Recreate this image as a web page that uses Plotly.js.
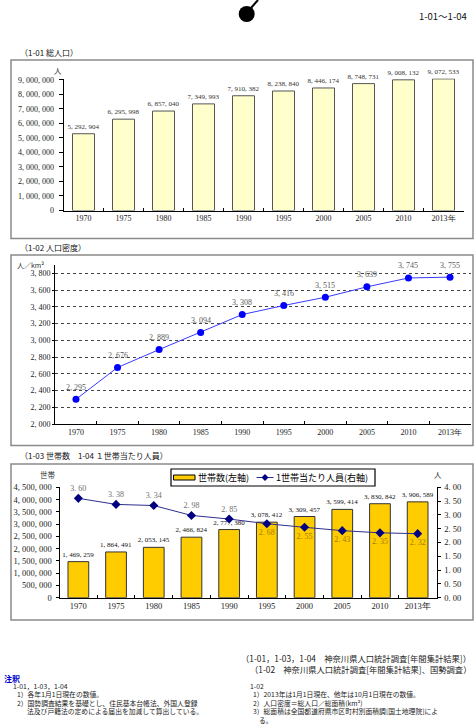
<!DOCTYPE html>
<html>
<head>
<meta charset="utf-8">
<script src="https://cdn.plot.ly/plotly-3.0.1.min.js"></script>
<style>
  html, body { margin: 0; padding: 0; background: #fff; }
  #chart { width: 475px; height: 727px; }
</style>
</head>
<body>
<div id="chart"></div>
<script>
// ---- data ----
const years = ['1970', '1975', '1980', '1985', '1990', '1995', '2000', '2005', '2010', '2013年'];
const totalPopulation = [5292904, 6295998, 6857040, 7349993, 7910382, 8238840, 8446174, 8748731, 9008132, 9072533];
const populationDensity = [2295, 2676, 2889, 3094, 3308, 3416, 3515, 3639, 3745, 3755];
const households = [1469259, 1864491, 2053145, 2466824, 2777380, 3078412, 3309457, 3599414, 3830842, 3906589];
const personsPerHousehold = [3.60, 3.38, 3.34, 2.98, 2.85, 2.68, 2.55, 2.43, 2.35, 2.32];

const populationTicks = [0, 1000000, 2000000, 3000000, 4000000, 5000000, 6000000, 7000000, 8000000, 9000000];
const densityTicks = [2000, 2200, 2400, 2600, 2800, 3000, 3200, 3400, 3600, 3800];
const householdTicks = [0, 500000, 1000000, 1500000, 2000000, 2500000, 3000000, 3500000, 4000000, 4500000];
const perHouseholdTicks = [0, 0.5, 1.0, 1.5, 2.0, 2.5, 3.0, 3.5, 4.0];

const householdSeriesName = '世帯数(左軸)';
const perHouseholdSeriesName = '1世帯当たり人員(右軸)';

// ---- helpers ----
const W = 475, H = 727;
const X = px => px / W;
const Y = py => 1 - py / H;
const FONT_JP = '"Noto Sans CJK JP", "Noto Sans", sans-serif';
const FONT_NUM = '"Liberation Serif", "DejaVu Serif", serif';

// thousands separated with a wide comma, e.g. 5, 292, 904
const fmtInt = v => String(Math.round(v)).replace(/\B(?=(\d{3})+(?!\d))/g, ', ');
const fmtDec = v => v.toFixed(2).replace('.', '. ');

// labels of the first five points sit above the line, the rest below it
const perLabelPos = personsPerHousehold.map((v, i) => i < 5 ? 'top center' : 'bottom center');
const perLabelColor = personsPerHousehold.map((v, i) => i < 5 ? '#707070' : '#A57C00');

const traces = [
  {
    type: 'bar', x: years, y: totalPopulation, xaxis: 'x', yaxis: 'y',
    width: 0.55,
    marker: { color: '#FFFFCC', line: { color: '#555', width: 1 } },
    text: totalPopulation.map(fmtInt), textposition: 'outside', constraintext: 'none',
    textfont: { family: FONT_NUM, size: 7, color: '#333' }, cliponaxis: false,
    showlegend: false, hoverinfo: 'skip'
  },
  {
    type: 'scatter', mode: 'lines+markers', x: years, y: populationDensity, xaxis: 'x2', yaxis: 'y2',
    line: { color: '#3A3AFF', width: 1 },
    marker: { color: '#0000FF', size: 7 },
    cliponaxis: false, showlegend: false, hoverinfo: 'skip'
  },
  {
    type: 'bar', name: householdSeriesName, x: years, y: households, xaxis: 'x3', yaxis: 'y3',
    width: 0.55,
    marker: { color: '#FFCC00', line: { color: '#333', width: 1 } },
    text: households.map(fmtInt), textposition: 'outside', constraintext: 'none',
    textfont: { family: FONT_NUM, size: 7, color: '#111' }, cliponaxis: false,
    showlegend: false, hoverinfo: 'skip'
  },
  {
    type: 'scatter', mode: 'lines+markers+text', name: perHouseholdSeriesName,
    x: years, y: personsPerHousehold, xaxis: 'x3', yaxis: 'y4',
    line: { color: '#2E2E8F', width: 1 },
    marker: { color: '#000080', size: 7, symbol: 'diamond' },
    text: personsPerHousehold.map(fmtDec), textposition: perLabelPos,
    textfont: { family: FONT_NUM, size: 8, color: perLabelColor }, cliponaxis: false,
    showlegend: false, hoverinfo: 'skip'
  }
];

const xCommon = {
  type: 'category', range: [-0.5, 9.5], showline: true, linecolor: '#000', linewidth: 1,
  ticks: 'inside', ticklen: 3, tickcolor: '#000', tickson: 'boundaries',
  showgrid: false, zeroline: false, fixedrange: true,
  tickfont: { family: FONT_NUM, size: 8, color: '#222' }
};
const yCommon = {
  showline: true, linecolor: '#000', linewidth: 1, ticks: 'outside', ticklen: 3,
  tickcolor: '#000', zeroline: false, fixedrange: true, showgrid: false,
  tickfont: { family: FONT_NUM, size: 8, color: '#222' }
};

const ann = (text, x, y, opts = {}) => Object.assign({
  text, x: X(x), y: Y(y), xref: 'paper', yref: 'paper', showarrow: false,
  xanchor: 'left', yanchor: 'middle', borderpad: 0,
  font: { family: FONT_JP, size: 8, color: '#222' }
}, opts);

const box = (x0, y0, x1, y1, color = '#8A8A8A', width = 1.5, fill = 'rgba(0,0,0,0)', layer = 'below') => ({
  type: 'rect', xref: 'paper', yref: 'paper', x0: X(x0), x1: X(x1), y0: Y(y1), y1: Y(y0),
  line: { color, width }, fillcolor: fill, layer
});

// value labels above the density points (x given as category index)
const densityLabels = populationDensity.map((v, i) => ({
  text: fmtInt(v), x: i, y: v, xref: 'x2', yref: 'y2', showarrow: false,
  yshift: 12, xanchor: 'center', yanchor: 'middle',
  font: { family: FONT_NUM, size: 8, color: '#5A5A5A' }
}));

// legend of the household chart
const LEG_Y = 477.5;
const legendShapes = [
  box(171, 469, 375, 486, '#000', 1.2, '#fff', 'above'),
  box(173.5, LEG_Y - 2.5, 195, LEG_Y + 2.5, '#000', 1, '#FFCC00', 'above'),
  { type: 'line', xref: 'paper', yref: 'paper', x0: X(256.5), x1: X(273.5), y0: Y(LEG_Y), y1: Y(LEG_Y),
    line: { color: '#2E2E8F', width: 1 }, layer: 'above' },
  { type: 'path', xref: 'paper', yref: 'paper', layer: 'above',
    path: `M ${X(265)},${Y(LEG_Y - 3.5)} L ${X(268.5)},${Y(LEG_Y)} L ${X(265)},${Y(LEG_Y + 3.5)} L ${X(261.5)},${Y(LEG_Y)} Z`,
    fillcolor: '#000080', line: { color: '#000080', width: 0 } }
];

const NOTE = { family: FONT_JP, size: 6.8, color: '#222' };

const layout = {
  width: W, height: H, autosize: false,
  margin: { l: 0, r: 0, t: 0, b: 0 },
  paper_bgcolor: '#fff', plot_bgcolor: 'rgba(0,0,0,0)',
  font: { family: FONT_NUM, size: 8, color: '#222' },
  showlegend: false,

  // 1-01 total population
  xaxis: Object.assign({}, xCommon, { domain: [X(63.5), X(463.5)], anchor: 'y' }),
  yaxis: Object.assign({}, yCommon, {
    domain: [Y(210.5), Y(78.5)], anchor: 'x', range: [0, 9100000],
    tickvals: populationTicks, ticktext: populationTicks.map(fmtInt), ticklen: 4, ticklabelstandoff: 3
  }),

  // 1-02 population density
  xaxis2: Object.assign({}, xCommon, { domain: [X(55.2), X(470.8)], anchor: 'y2' }),
  yaxis2: Object.assign({}, yCommon, {
    domain: [Y(424), Y(265)], anchor: 'x2', range: [2000, 3900],
    tickvals: densityTicks, ticktext: densityTicks.map(fmtInt), ticklen: 2,
    showgrid: true, gridcolor: '#444', gridwidth: 1, griddash: 'dot'
  }),

  // 1-03 households, 1-04 persons per household
  xaxis3: Object.assign({}, xCommon, {
    domain: [X(59.5), X(436.5)], anchor: 'y3',
    tickfont: { family: FONT_NUM, size: 8.5, color: '#222' }
  }),
  yaxis3: Object.assign({}, yCommon, {
    domain: [Y(597.7), Y(487.3)], anchor: 'x3', range: [0, 4500000],
    tickvals: householdTicks, ticktext: householdTicks.map(fmtInt), ticklabelstandoff: 2,
    tickfont: { family: FONT_NUM, size: 8.5, color: '#222' }
  }),
  yaxis4: Object.assign({}, yCommon, {
    overlaying: 'y3', side: 'right', anchor: 'x3', range: [0, 4],
    tickvals: perHouseholdTicks, ticktext: perHouseholdTicks.map(fmtDec), ticklabelstandoff: 2,
    tickfont: { family: FONT_NUM, size: 8.5, color: '#222' }
  }),

  shapes: [
    box(11, 60, 473, 238.5),
    box(11, 255, 473, 445.5),
    box(11, 464, 473, 620),
    // page marker at the top
    { type: 'circle', xref: 'paper', yref: 'paper', x0: X(238.7), x1: X(254.7), y0: Y(22), y1: Y(6),
      fillcolor: '#000', line: { color: '#000', width: 0 } },
    { type: 'line', xref: 'paper', yref: 'paper', x0: X(251), y0: Y(8), x1: X(258), y1: Y(0),
      line: { color: '#000', width: 2 } }
  ].concat(legendShapes),

  annotations: densityLabels.concat([
    ann('1-01～1-04', 468, 16, { xanchor: 'right', font: { family: FONT_JP, size: 9.5, color: '#111' } }),

    ann('（1-01 総人口）', 19, 52, { font: { family: FONT_JP, size: 8, color: '#111' } }),
    ann('人', 58, 70.5, { xanchor: 'center', font: { family: FONT_JP, size: 7.5, color: '#333' } }),

    ann('（1-02 人口密度）', 19, 247.5, { font: { family: FONT_JP, size: 8, color: '#111' } }),
    ann('人／km²', 30, 265, { xanchor: 'center', font: { family: FONT_JP, size: 7, color: '#333' } }),

    ann('（1-03 世帯数　1-04 １世帯当たり人員）', 19, 455, { font: { family: FONT_JP, size: 8, color: '#111' } }),
    ann('世帯', 48, 475, { xanchor: 'center', font: { family: FONT_JP, size: 7.5, color: '#333' } }),
    ann('人', 438, 475, { xanchor: 'center', font: { family: FONT_JP, size: 7.5, color: '#333' } }),

    // legend texts
    ann(householdSeriesName, 197, LEG_Y, { font: { family: FONT_JP, size: 9, color: '#000' } }),
    ann(perHouseholdSeriesName, 274.5, LEG_Y, { font: { family: FONT_JP, size: 9, color: '#000' } }),

    ann('（1-01，1-03，1-04　神奈川県人口統計調査[年間集計結果]）', 472, 658, { xanchor: 'right', font: { family: FONT_JP, size: 8.3, color: '#222' } }),
    ann('（1-02　神奈川県人口統計調査[年間集計結果]、国勢調査）', 472, 669, { xanchor: 'right', font: { family: FONT_JP, size: 8.3, color: '#222' } }),

    ann('<b>注釈</b>', 3, 678.5, { font: { family: FONT_JP, size: 8, color: '#0000CC' } }),

    ann('1-01，1-03，1-04', 12, 686, { font: NOTE }),
    ann('1）各年1月1日現在の数値。', 16, 694.4, { font: NOTE }),
    ann('2）国勢調査結果を基礎とし、住民基本台帳法、外国人登録', 16, 702.8, { font: NOTE }),
    ann('法及び戸籍法の定めによる届出を加減して算出している。', 26, 711.2, { font: NOTE }),

    ann('1-02', 249, 686, { font: NOTE }),
    ann('1）2013年は1月1日現在、他年は10月1日現在の数値。', 252, 694.4, { font: NOTE }),
    ann('2）人口密度＝総人口／総面積(km²)', 252, 702.8, { font: NOTE }),
    ann('3）総面積は全国都道府県市区町村別面積調[国土地理院]によ', 252, 711.2, { font: NOTE }),
    ann('る。', 258, 719.6, { font: NOTE })
  ])
};

Plotly.newPlot('chart', traces, layout, { staticPlot: true, displayModeBar: false });
</script>
</body>
</html>
